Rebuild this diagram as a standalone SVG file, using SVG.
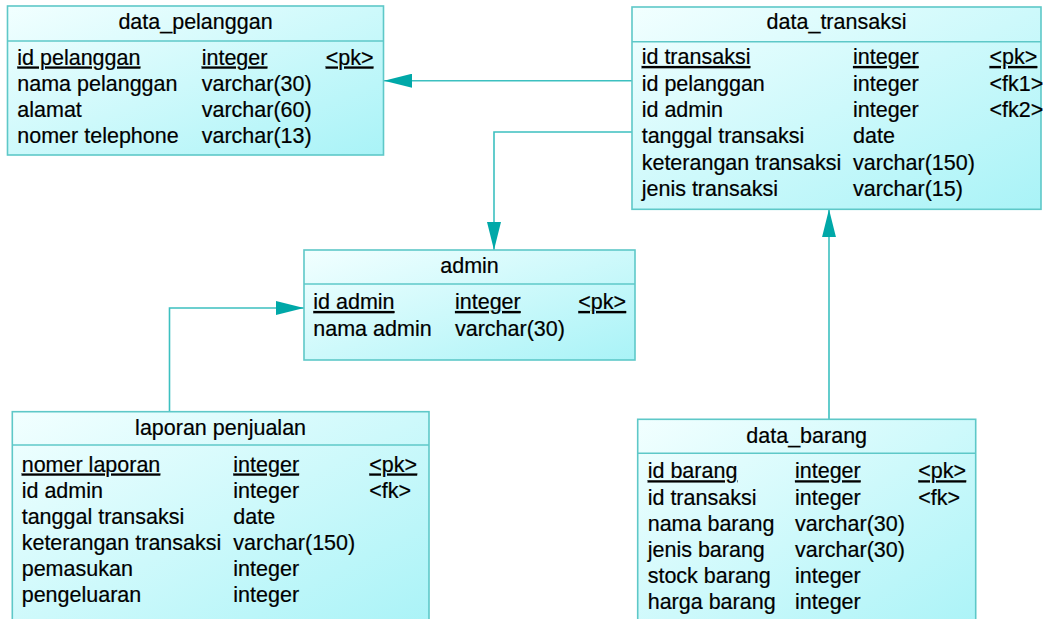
<svg xmlns="http://www.w3.org/2000/svg" width="1043" height="619" viewBox="0 0 1043 619">
<defs>
<linearGradient id="fill" x1="0" y1="0" x2="1" y2="1">
<stop offset="0" stop-color="#f2ffff"/>
<stop offset="1" stop-color="#a9f3f7"/>
</linearGradient>
<marker id="arr" viewBox="0 0 28 14" refX="28" refY="7" markerWidth="28" markerHeight="14" markerUnits="userSpaceOnUse" orient="auto">
<path d="M0,0 L28,7 L0,14 Z" fill="#00a8a8"/>
</marker>
<style>
.box{fill:url(#fill);stroke:#5ec8c8;stroke-width:1.6}
.sep{stroke:#5ec8c8;stroke-width:1.4}
text{font-family:"Liberation Sans",Arial,sans-serif;font-size:21.5px;fill:#000;stroke:#000;stroke-width:0.2}
.t{text-anchor:middle}
.u{text-decoration:underline}
.c{fill:none;stroke:#3cc0c0;stroke-width:1.6}
</style>
</defs>
<g id="connectors">
<path class="c" d="M632,80.7 L384,80.7" marker-end="url(#arr)"/>
<path class="c" d="M632,132 L494,132 L494,250" marker-end="url(#arr)"/>
<path class="c" d="M169.5,411.7 L169.5,308 L304,308" marker-end="url(#arr)"/>
<path class="c" d="M829,419.3 L829,209.3" marker-end="url(#arr)"/>
</g>
<g id="data_pelanggan">
<rect class="box" x="7.5" y="6" width="376" height="149"/>
<line class="sep" x1="7.5" y1="41" x2="383.5" y2="41"/>
<text class="t" x="195.5" y="28.5">data_pelanggan</text>
<text class="u" x="17.3" y="64.5">id pelanggan</text><text class="u" x="201.7" y="64.5">integer</text><text class="u" x="325.7" y="64.5">&lt;pk&gt;</text>
<text x="17.3" y="90.7">nama pelanggan</text><text x="201.7" y="90.7">varchar(30)</text>
<text x="17.3" y="116.9">alamat</text><text x="201.7" y="116.9">varchar(60)</text>
<text x="17.3" y="143">nomer telephone</text><text x="201.7" y="143">varchar(13)</text>
</g>
<g id="data_transaksi">
<rect class="box" x="632" y="7" width="409" height="202.3"/>
<line class="sep" x1="632" y1="41.7" x2="1041" y2="41.7"/>
<text class="t" x="836.5" y="29.3">data_transaksi</text>
<text class="u" x="641.7" y="64">id transaksi</text><text class="u" x="853" y="64">integer</text><text class="u" x="989.5" y="64">&lt;pk&gt;</text>
<text x="641.7" y="90.5">id pelanggan</text><text x="853" y="90.5">integer</text><text x="989.5" y="90.5">&lt;fk1&gt;</text>
<text x="641.7" y="116.9">id admin</text><text x="853" y="116.9">integer</text><text x="989.5" y="116.9">&lt;fk2&gt;</text>
<text x="641.7" y="143.3">tanggal transaksi</text><text x="853" y="143.3">date</text>
<text x="641.7" y="169.7">keterangan transaksi</text><text x="853" y="169.7">varchar(150)</text>
<text x="641.7" y="196.1">jenis transaksi</text><text x="853" y="196.1">varchar(15)</text>
</g>
<g id="admin">
<rect class="box" x="304" y="250" width="331" height="110"/>
<line class="sep" x1="304" y1="284" x2="635" y2="284"/>
<text class="t" x="469.5" y="273.3">admin</text>
<text class="u" x="313.3" y="309">id admin</text><text class="u" x="455" y="309">integer</text><text class="u" x="578.3" y="309">&lt;pk&gt;</text>
<text x="313.3" y="335.5">nama admin</text><text x="455" y="335.5">varchar(30)</text>
</g>
<g id="laporan_penjualan">
<rect class="box" x="12.3" y="411.7" width="416.7" height="220"/>
<line class="sep" x1="12.3" y1="445" x2="429" y2="445"/>
<text class="t" x="220.6" y="435">laporan penjualan</text>
<text class="u" x="21.7" y="471.5">nomer laporan</text><text class="u" x="233.3" y="471.5">integer</text><text class="u" x="369.3" y="471.5">&lt;pk&gt;</text>
<text x="21.7" y="497.5">id admin</text><text x="233.3" y="497.5">integer</text><text x="369.3" y="497.5">&lt;fk&gt;</text>
<text x="21.7" y="523.5">tanggal transaksi</text><text x="233.3" y="523.5">date</text>
<text x="21.7" y="549.5">keterangan transaksi</text><text x="233.3" y="549.5">varchar(150)</text>
<text x="21.7" y="575.5">pemasukan</text><text x="233.3" y="575.5">integer</text>
<text x="21.7" y="601.5">pengeluaran</text><text x="233.3" y="601.5">integer</text>
</g>
<g id="data_barang">
<rect class="box" x="637.7" y="419.3" width="338" height="220"/>
<line class="sep" x1="637.7" y1="453.3" x2="975.7" y2="453.3"/>
<text class="t" x="806.7" y="443.3">data_barang</text>
<text class="u" x="647.7" y="478.3">id barang</text><text class="u" x="795" y="478.3">integer</text><text class="u" x="918.3" y="478.3">&lt;pk&gt;</text>
<text x="647.7" y="504.5">id transaksi</text><text x="795" y="504.5">integer</text><text x="918.3" y="504.5">&lt;fk&gt;</text>
<text x="647.7" y="530.7">nama barang</text><text x="795" y="530.7">varchar(30)</text>
<text x="647.7" y="556.9">jenis barang</text><text x="795" y="556.9">varchar(30)</text>
<text x="647.7" y="583.1">stock barang</text><text x="795" y="583.1">integer</text>
<text x="647.7" y="609.3">harga barang</text><text x="795" y="609.3">integer</text>
</g>
</svg>
